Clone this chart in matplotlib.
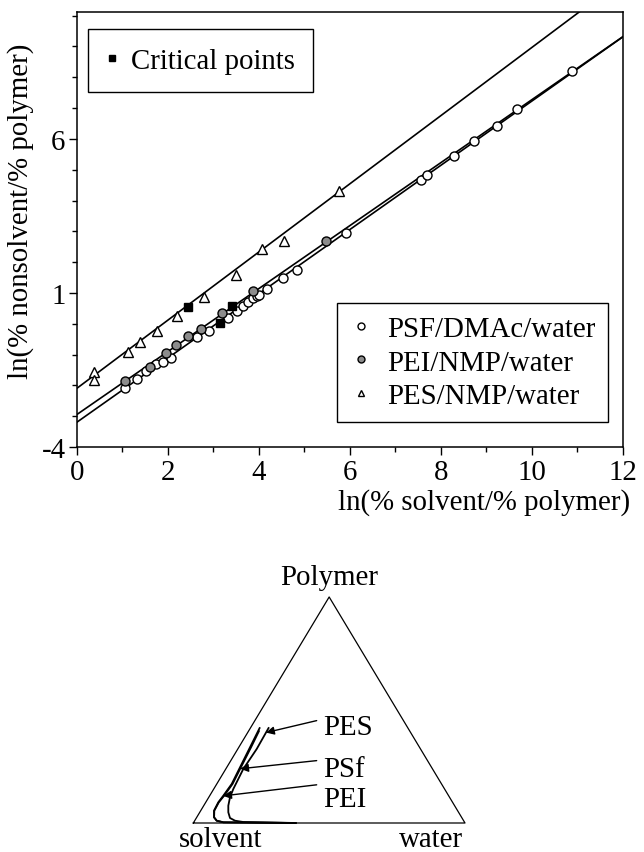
import numpy as np
import matplotlib
matplotlib.use("Agg")
import matplotlib.pyplot as plt
from matplotlib.lines import Line2D

plt.rcParams['font.family'] = ['Liberation Serif', 'DejaVu Serif']
plt.rcParams['axes.unicode_minus'] = False
FS = 20.8

# ---- data: ln(% solvent/% polymer) vs ln(% nonsolvent/% polymer)
psf_x = [1.06, 1.33, 1.52, 1.74, 1.89, 2.07, 2.64, 2.91, 3.32, 3.52, 3.66, 3.77,
         3.87, 3.96, 4.01, 4.19, 4.53, 4.84, 5.91, 7.57, 7.69, 8.28, 8.72, 9.23,
         9.67, 10.89]
psf_y = [-2.09, -1.79, -1.52, -1.31, -1.23, -1.12, -0.42, -0.24, 0.18, 0.43, 0.59,
         0.70, 0.83, 0.89, 0.94, 1.13, 1.49, 1.75, 2.95, 4.65, 4.84, 5.46, 5.93,
         6.43, 6.97, 8.22]
pei_x = [1.06, 1.61, 1.96, 2.18, 2.44, 2.72, 3.20, 3.87, 5.47]
pei_y = [-1.85, -1.39, -0.95, -0.68, -0.41, -0.17, 0.34, 1.06, 2.67]
pes_x = [0.39, 0.39, 1.12, 1.39, 1.76, 2.20, 2.80, 3.50, 4.07, 4.56, 5.77]
pes_y = [-1.57, -1.82, -0.93, -0.58, -0.22, 0.26, 0.86, 1.59, 2.43, 2.70, 4.32]
crit_x = [2.45, 3.41, 3.15]
crit_y = [0.55, 0.59, 0.03]

# linear fits: (intercept, slope)
fit_psf = (-3.20, 1.043)
fit_pei = (-2.95, 1.0225)
fit_pes = (-2.10, 1.107)

# ---- ternary sketch: binodal curves as (polymer, water) fractions
pei_phi_p = [0.4235, 0.335, 0.2465, 0.1726, 0.1208, 0.0916, 0.0544, 0.0252,
             0.0102, 0.0031, 0.0]
pei_phi_w = [0.0337, 0.0412, 0.0487, 0.055, 0.050, 0.0462, 0.049, 0.0636,
             0.081, 0.109, 0.38]
psf_phi_p = [0.41, 0.335, 0.2465, 0.1726, 0.1208, 0.0916, 0.0544, 0.0252,
             0.0102, 0.0031, 0.0]
psf_phi_w = [0.038, 0.045, 0.052, 0.058, 0.053, 0.048, 0.050, 0.064,
             0.081, 0.109, 0.38]
pes_phi_p = [0.4235, 0.3274, 0.239, 0.1504, 0.1137, 0.0766, 0.0473, 0.0221,
             0.0102, 0.0044, 0.0]
pes_phi_w = [0.0668, 0.0696, 0.0645, 0.072, 0.0782, 0.0905, 0.1052, 0.124,
             0.1484, 0.1818, 0.38]
curve_names = ['PES', 'PSf', 'PEI']
arrow_phi_p = [0.40, 0.24, 0.12]
label_phi_p = [0.425, 0.239, 0.106]
tail_phi_p = [0.453, 0.276, 0.169]

fig = plt.figure(figsize=(6.44, 8.53), dpi=100)

# ---------------- top plot
ax = fig.add_axes([0.1191, 0.4748, 0.8483, 0.51])
xx = np.array([0, 12.5])
for b, m in (fit_psf, fit_pei, fit_pes):
    ax.plot(xx, b + m * xx, color='black', lw=1.2, zorder=2)

ax.plot(psf_x, psf_y, 'o', ms=6.5, mfc='white', mec='black', mew=1.0, zorder=3)
ax.plot(pei_x, pei_y, 'o', ms=6.5, mfc='#8c8c8c', mec='black', mew=1.0, zorder=4)
ax.plot(pes_x, pes_y, '^', ms=6.5, mfc='white', mec='black', mew=1.0, zorder=3)
ax.plot(crit_x, crit_y, 's', ms=6, mfc='black', mec='black', zorder=5)

ax.set_xlim(0, 12)
ax.set_ylim(-4, 10.12)
ax.set_xticks([0, 2, 4, 6, 8, 10, 12])
ax.set_xticks(np.arange(0, 13, 1), minor=True)
ax.set_yticks([-4, 1, 6])
ax.set_yticks(np.arange(-4, 11, 1), minor=True)
ax.tick_params(axis='both', which='major', direction='out', length=6, width=1,
               labelsize=FS, pad=2)
ax.tick_params(axis='x', which='major', pad=3)
ax.tick_params(axis='both', which='minor', direction='out', length=3.5, width=1)
ax.tick_params(top=False, right=False, which='both')
for s in ax.spines.values():
    s.set_linewidth(1.1)

ax.set_xlabel('ln(% solvent/% polymer)', fontsize=FS, ha='right', va='center')
ax.xaxis.set_label_coords(1.013, -0.126)
ax.set_ylabel('ln(% nonsolvent/% polymer)', fontsize=FS, va='center', ha='center')
ax.yaxis.set_label_coords(-0.103, 0.543)

h_crit = Line2D([], [], ls='none', marker='s', ms=5, mfc='black', mec='black')
leg1 = ax.legend([h_crit], ['Critical points'], loc='upper left',
                 bbox_to_anchor=(0.0207, 0.961), borderaxespad=0, fontsize=FS,
                 frameon=True, fancybox=False, edgecolor='black', framealpha=1,
                 handlelength=0.4, handletextpad=0.45, borderpad=0.64)
leg1.get_frame().set_linewidth(1.0)
ax.add_artist(leg1)

h1 = Line2D([], [], ls='none', marker='o', ms=5, mfc='white', mec='black')
h2 = Line2D([], [], ls='none', marker='o', ms=5, mfc='#8c8c8c', mec='black')
h3 = Line2D([], [], ls='none', marker='^', ms=5, mfc='white', mec='black')
leg2 = ax.legend([h1, h2, h3], ['PSF/DMAc/water', 'PEI/NMP/water', 'PES/NMP/water'],
                 loc='lower right', bbox_to_anchor=(0.9726, 0.0575), borderaxespad=0,
                 fontsize=FS, frameon=True, fancybox=False, edgecolor='black',
                 framealpha=1, handlelength=0.8, handletextpad=0.5,
                 labelspacing=0.26, borderpad=0.44)
leg2.get_frame().set_linewidth(1.0)

# ---------------- ternary sketch
tx = fig.add_axes([150 / 644, 0, 400 / 644, 293 / 853])
tx.set_xlim(-0.1594, 1.3128)
tx.set_ylim(-0.1283, 1.168)
tx.axis('off')

tri_x = [0, 1, 0.5, 0]
tri_y = [0, 0, 1, 0]
tx.plot(tri_x, tri_y, color='black', lw=0.9)


def tern(phi_p, phi_w):
    phi_p = np.asarray(phi_p)
    return np.asarray(phi_w) + phi_p / 2, phi_p


curves = {'PEI': (pei_phi_p, pei_phi_w), 'PSf': (psf_phi_p, psf_phi_w),
          'PES': (pes_phi_p, pes_phi_w)}
for name, (pp, ww) in curves.items():
    X, Y = tern(pp, ww)
    tx.plot(X, Y, color='black', lw=1.3, solid_capstyle='butt',
            solid_joinstyle='round')

for name, ap, lp, tp in zip(curve_names, arrow_phi_p, label_phi_p, tail_phi_p):
    pp, ww = curves[name]
    w_at = np.interp(ap, pp[::-1], ww[::-1])
    X, Y = tern(ap, w_at)
    tx.annotate('', xy=(X, Y), xytext=(0.454, tp),
                arrowprops=dict(arrowstyle='-|>', color='black', lw=1.0,
                                mutation_scale=12, shrinkA=0, shrinkB=0))
    tx.text(0.477, lp, name, fontsize=FS, ha='left', va='center')

tx.text(0.5, 1.088, 'Polymer', fontsize=FS, ha='center', va='center')
tx.text(0.102, -0.071, 'solvent', fontsize=FS, ha='center', va='center')
tx.text(0.875, -0.071, 'water', fontsize=FS, ha='center', va='center')

fig.savefig('out.png', dpi=100)
